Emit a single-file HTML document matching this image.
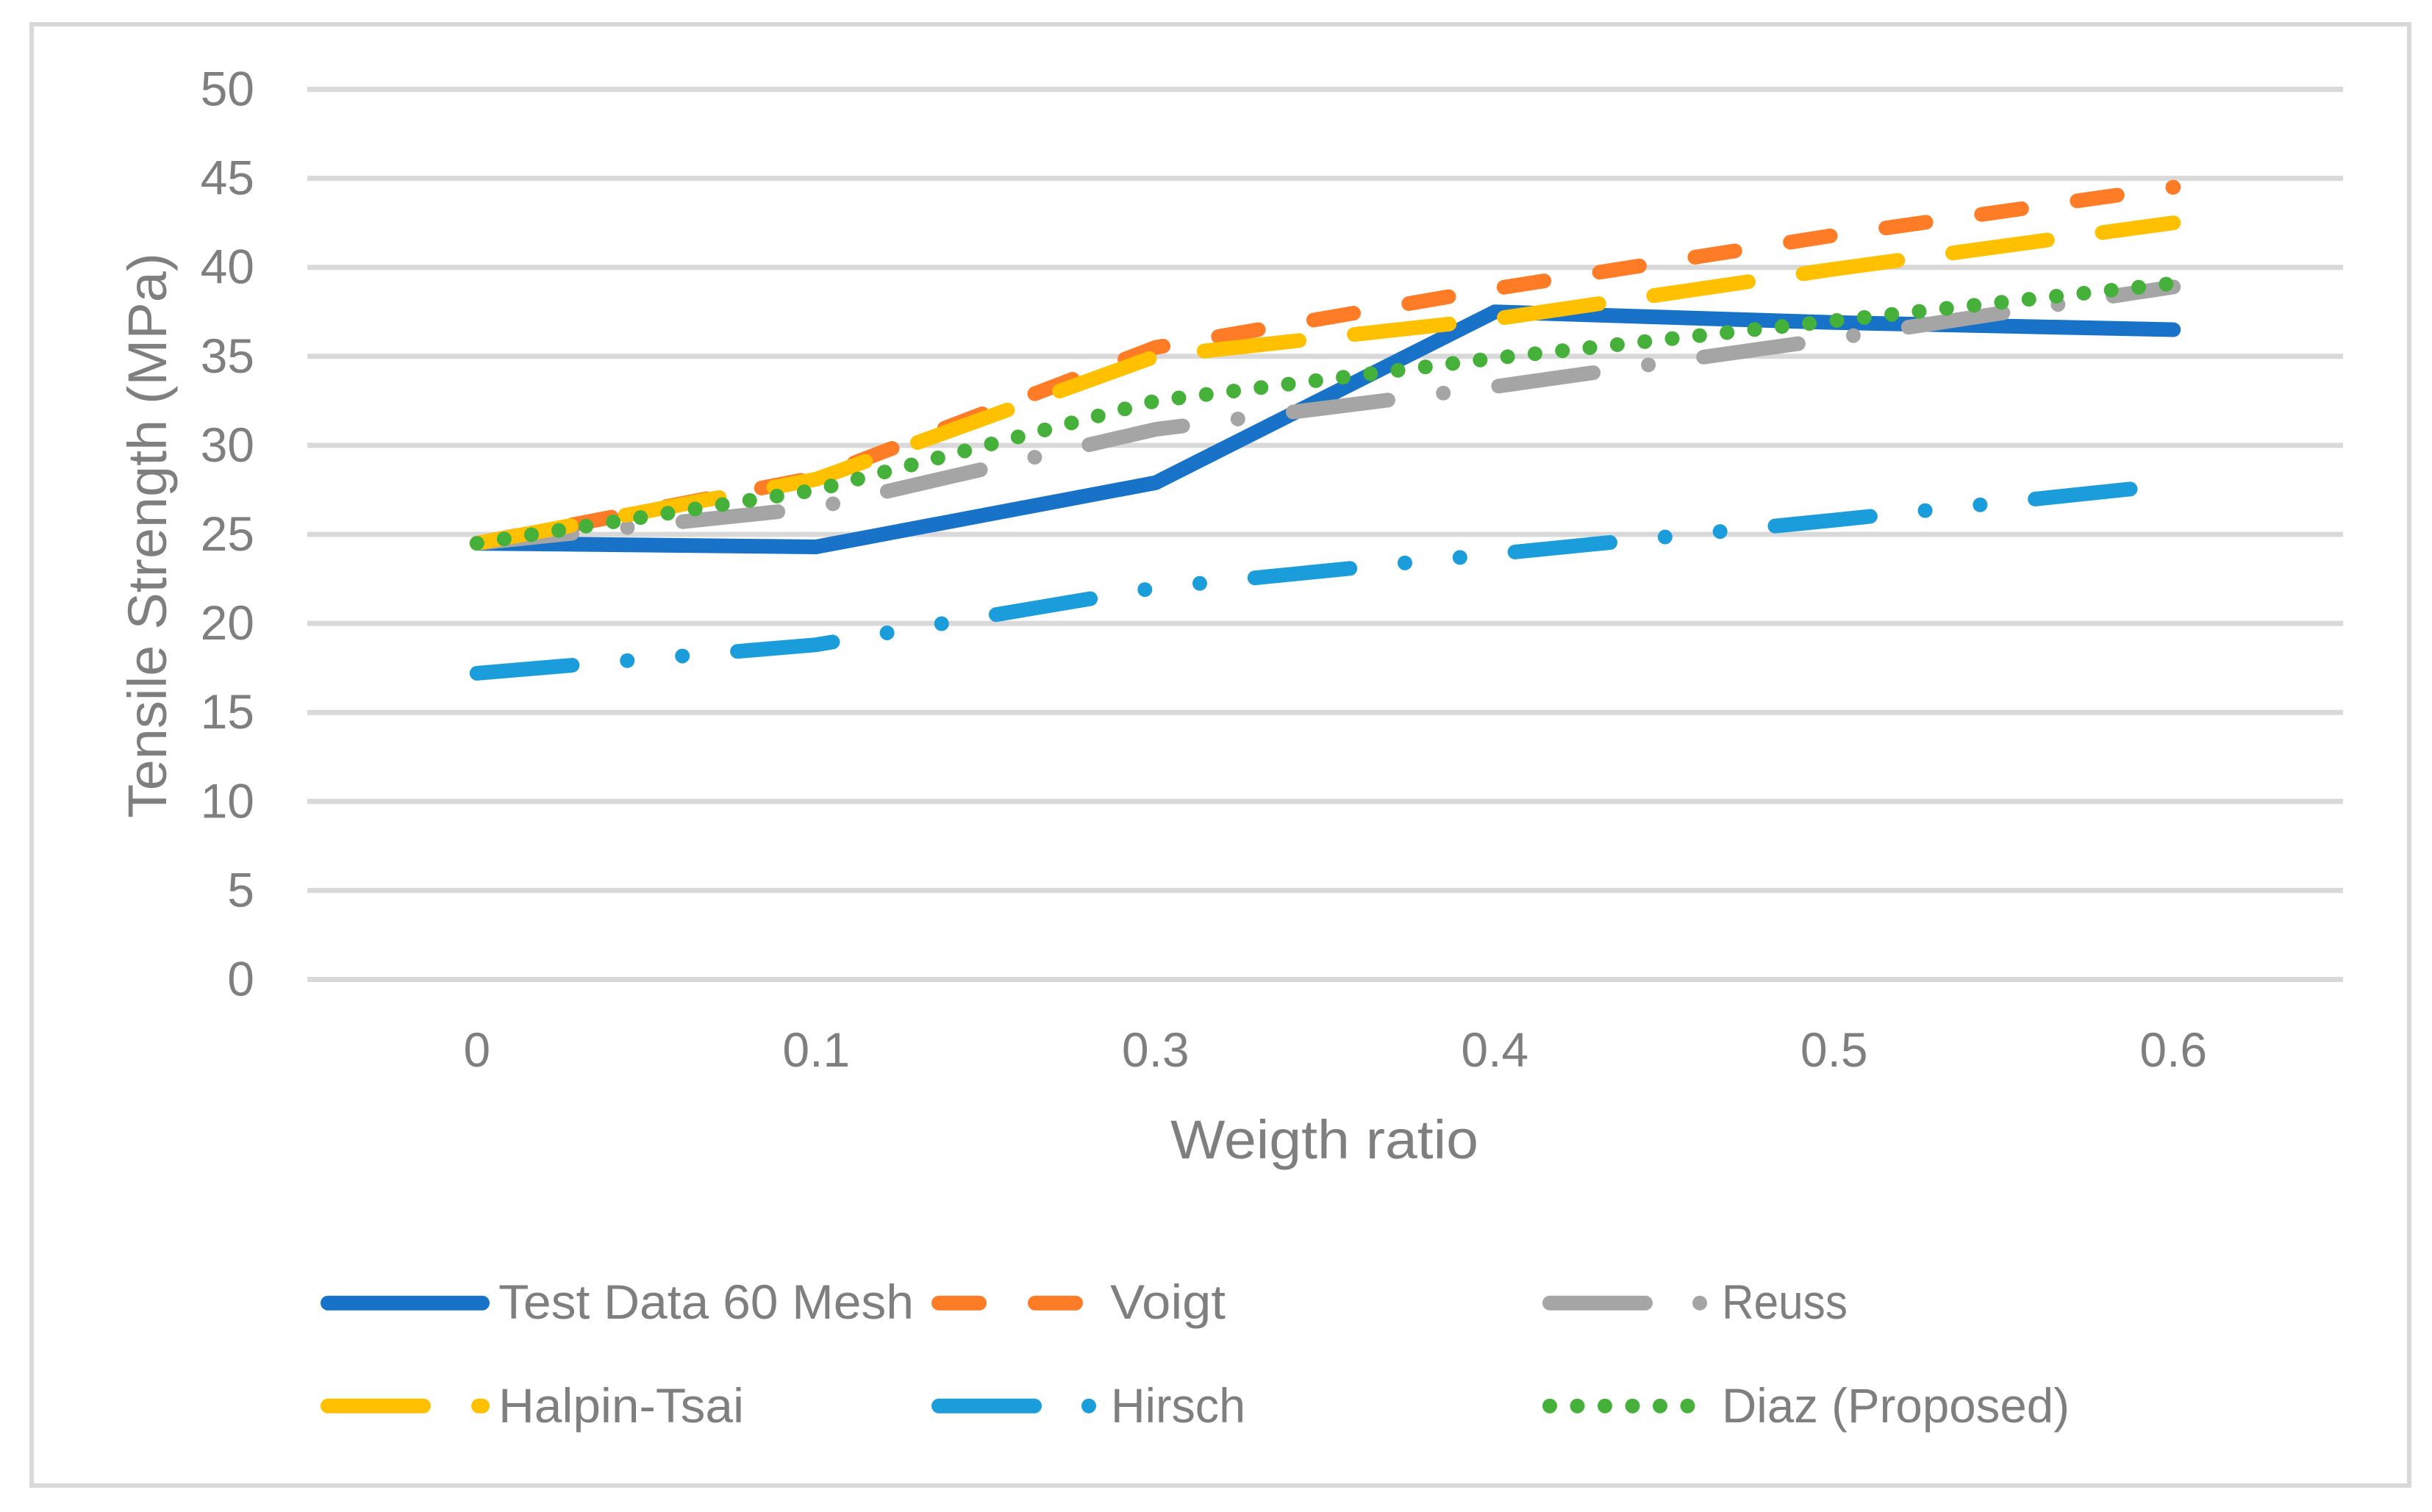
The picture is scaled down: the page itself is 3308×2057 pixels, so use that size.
<!DOCTYPE html>
<html lang="en">
<head>
<meta charset="utf-8">
<title>Tensile Strength vs Weight Ratio</title>
<style>
html,body{margin:0;padding:0;background:#fff;}
svg{display:block;}
text{font-family:"Liberation Sans",sans-serif;fill:#7f7f7f;}
</style>
</head>
<body>
<svg id="chart" xmlns="http://www.w3.org/2000/svg" width="3308" height="2057" viewBox="0 0 3308 2057">
  <rect x="0" y="0" width="3308" height="2057" fill="#ffffff"/>
  <rect x="43" y="33" width="3234" height="1988" fill="none" stroke="#d9d9d9" stroke-width="6"/>
  <g id="grid"></g>
  <g id="yticks"></g>
  <g id="xticks"></g>
  <g id="series"></g>
  <text transform="translate(226,1113) rotate(-90)" font-size="74" textLength="769" lengthAdjust="spacingAndGlyphs">Tensile Strength (MPa)</text>
  <text x="1592" y="1576" font-size="74" textLength="419" lengthAdjust="spacingAndGlyphs">Weigth ratio</text>
  <g>
    <g>
      <line x1="446" y1="1772.7" x2="656" y2="1772.7" stroke="#1772c8" stroke-width="20" stroke-linecap="round"/>
      <text x="678" y="1794" font-size="66" textLength="565" lengthAdjust="spacingAndGlyphs">Test Data 60 Mesh</text>
    </g>
    <g>
      <line x1="1277" y1="1772.7" x2="1487" y2="1772.7" stroke="#ff7c26" stroke-width="20" stroke-linecap="round" stroke-dasharray="55 76"/>
      <text x="1510" y="1794" font-size="66" textLength="157" lengthAdjust="spacingAndGlyphs">Voigt</text>
    </g>
    <g>
      <line x1="2108" y1="1772.7" x2="2318" y2="1772.7" stroke="#a5a5a5" stroke-width="20" stroke-linecap="round" stroke-dasharray="130 74 0 74"/>
      <text x="2342" y="1794" font-size="66" textLength="171" lengthAdjust="spacingAndGlyphs">Reuss</text>
    </g>
    <g>
      <line x1="446" y1="1912.7" x2="656" y2="1912.7" stroke="#ffc000" stroke-width="20" stroke-linecap="round" stroke-dasharray="130 75"/>
      <text x="678" y="1935" font-size="66" textLength="334" lengthAdjust="spacingAndGlyphs">Halpin-Tsai</text>
    </g>
    <g>
      <line x1="1277" y1="1912.7" x2="1487" y2="1912.7" stroke="#1c9ddb" stroke-width="20" stroke-linecap="round" stroke-dasharray="130 74 0 74 0 74"/>
      <text x="1511" y="1935" font-size="66" textLength="183" lengthAdjust="spacingAndGlyphs">Hirsch</text>
    </g>
    <g>
      <line x1="2108" y1="1912.7" x2="2318" y2="1912.7" stroke="#45b03a" stroke-width="20" stroke-linecap="round" stroke-dasharray="0 37.5"/>
      <text x="2342" y="1935" font-size="66" textLength="473" lengthAdjust="spacingAndGlyphs">Diaz (Proposed)</text>
    </g>
  </g>
</svg>
<script>
const categories = ['0', '0.1', '0.3', '0.4', '0.5', '0.6'];
const yTickLabels = [0, 5, 10, 15, 20, 25, 30, 35, 40, 45, 50];
const testData = [24.5, 24.3, 27.9, 37.5, 36.9, 36.5];
const voigt = [24.5, 28.2, 35.5, 38.8, 41.8, 44.5];
const reuss = [24.5, 26.5, 30.9, 33.3, 36.0, 38.9];
const halpinTsai = [24.5, 28.1, 35.0, 37.1, 39.9, 42.5];
const hirsch = [17.2, 18.8, 22.0, 23.9, 25.8, 27.8];
const diaz = [24.5, 27.5, 32.5, 34.9, 37.0, 39.1];

const NS = 'http://www.w3.org/2000/svg';
const plotLeft = 418, plotRight = 3187, plotBottom = 1332.5, plotTop = 121.5, yMax = 50;
const xPos = function (i) { return plotLeft + (plotRight - plotLeft) * (i + 0.5) / categories.length; };
const yPos = function (v) { return plotBottom - (plotBottom - plotTop) * v / yMax; };

const gridGroup = document.getElementById('grid');
const yGroup = document.getElementById('yticks');
const xGroup = document.getElementById('xticks');
const seriesGroup = document.getElementById('series');

yTickLabels.forEach(function (t) {
  const line = document.createElementNS(NS, 'line');
  
  
  line.setAttribute('x1', plotLeft);
  line.setAttribute('x2', plotRight);
  line.setAttribute('y1', yPos(t));
  line.setAttribute('y2', yPos(t));
  line.setAttribute('stroke', '#d9d9d9');
  line.setAttribute('stroke-width', '7');
  gridGroup.appendChild(line);

  const label = document.createElementNS(NS, 'text');
  
  
  label.setAttribute('x', 346);
  label.setAttribute('y', yPos(t) + 22);
  label.setAttribute('text-anchor', 'end');
  label.setAttribute('font-size', '66');
  label.textContent = String(t);
  yGroup.appendChild(label);
});

categories.forEach(function (c, i) {
  const label = document.createElementNS(NS, 'text');
  
  
  label.setAttribute('x', xPos(i));
  label.setAttribute('y', 1451);
  label.setAttribute('text-anchor', 'middle');
  label.setAttribute('font-size', '66');
  label.textContent = c;
  xGroup.appendChild(label);
});

function drawSeries(name, values, color, dash) {
  const path = document.createElementNS(NS, 'path');
  
  
  path.setAttribute('d', values.map(function (v, i) {
    return (i === 0 ? 'M' : 'L') + xPos(i).toFixed(2) + ' ' + yPos(v).toFixed(2);
  }).join(' '));
  path.setAttribute('fill', 'none');
  path.setAttribute('stroke', color);
  path.setAttribute('stroke-width', '20');
  path.setAttribute('stroke-linecap', 'round');
  path.setAttribute('stroke-linejoin', 'round');
  if (dash) { path.setAttribute('stroke-dasharray', dash); }
  seriesGroup.appendChild(path);
}

drawSeries('test-data', testData, '#1772c8', null);
drawSeries('voigt', voigt, '#ff7c26', '55 76.4');
drawSeries('reuss', reuss, '#a5a5a5', '130 75.8 0 75.8');
drawSeries('halpin-tsai', halpinTsai, '#ffc000', '130 75.4');
drawSeries('hirsch', hirsch, '#1c9ddb', '130 75.2 0 75.2 0 75.2');
drawSeries('diaz-proposed', diaz, '#45b03a', '0 37.55');
</script>
</body>
</html>
